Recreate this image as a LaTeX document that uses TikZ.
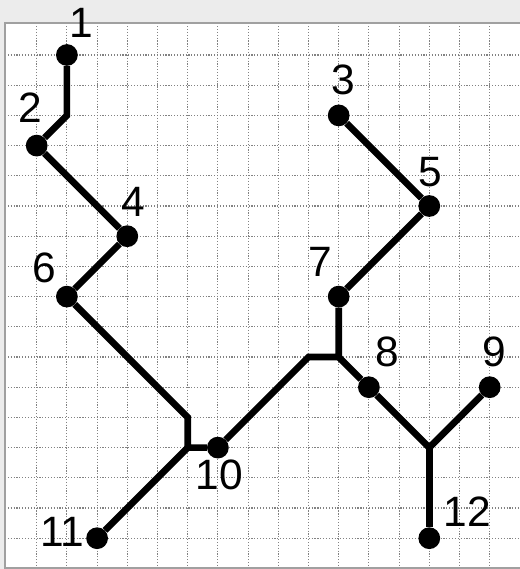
\documentclass[tikz,border=0pt]{standalone}
\usepackage{fontspec}
\setmainfont{Liberation Sans}
\usepackage{tikz}
\usetikzlibrary{calc,positioning}
\definecolor{panelgray}{RGB}{236,236,236}
\definecolor{framegray}{RGB}{160,160,160}
\definecolor{dotgray}{RGB}{130,130,130}

\tikzset{
  gridline/.style={dotgray,line width=1.1pt,dash pattern=on 1.1pt off 1.6pt},
  branch/.style={line width=6.3pt},
  dot/.style={circle,fill=black,inner sep=0pt,minimum size=0.72cm},
  numlbl/.style={inner sep=0pt,font=\fontsize{40}{42}\selectfont}
}

\begin{document}
\begin{tikzpicture}
  \useasboundingbox (-1.215,-17.02) rectangle (16.0,1.821);
  % background and panel
  \fill[panelgray] (-1.215,-17.02) rectangle (16.0,1.821);
  \fill[white] (-1.05,-16.98) rectangle (16.2,1.05);
  \foreach \x in {0,...,15}
    \draw[gridline] (\x,1.05) -- (\x,-16.98);
  \foreach \y in {0,...,16}
    \draw[gridline] (-1.05,-\y) -- (16.0,-\y);
  \draw[framegray,line width=1.6pt] (16.3,1.05) -- (-1.05,1.05) -- (-1.05,-16.98) -- (16.3,-16.98);

  % points
  \foreach \name/\x/\y in {1/1/0,2/0/-3,3/10/-2,4/3/-6,5/13/-5,6/1/-8,
                           7/10/-8,8/11/-11,9/15/-11,10/6/-13,11/2/-16,12/13/-16}
    \node[dot] (n\name) at (\x,\y) {};
  \coordinate (b1) at (1,-2);
  \coordinate (b6) at (5,-12);
  \coordinate (j10) at (5,-13);
  \coordinate (b7) at (9,-10);
  \coordinate (j7) at (10,-10);
  \coordinate (j12) at (13,-13);

  % branches
  \draw[branch] (n1) -- (b1) -- (n2) -- (n4) -- (n6) -- (b6) -- (j10) -- (n10)
    -- (b7) -- (j7) -- (n7) -- (n5) -- (n3);
  \draw[branch] (j10) -- (n11);
  \draw[branch] (j7) -- (n8) -- (j12) -- (n9);
  \draw[branch] (j12) -- (n12);

  % labels
  \foreach \name/\x/\y in {1/1.47/1.06,2/-0.22/-1.76,3/10.14/-0.83,4/3.19/-4.87,
                           5/13.02/-3.87,6/0.24/-7.05,7/9.38/-6.85,8/11.6/-9.83,
                           9/15.14/-9.83,10/6.04/-13.91,11/0.84/-15.8,12/14.25/-15.13}
    \node[numlbl] (t\name) at (\x,\y) {\name};
\end{tikzpicture}
\end{document}
